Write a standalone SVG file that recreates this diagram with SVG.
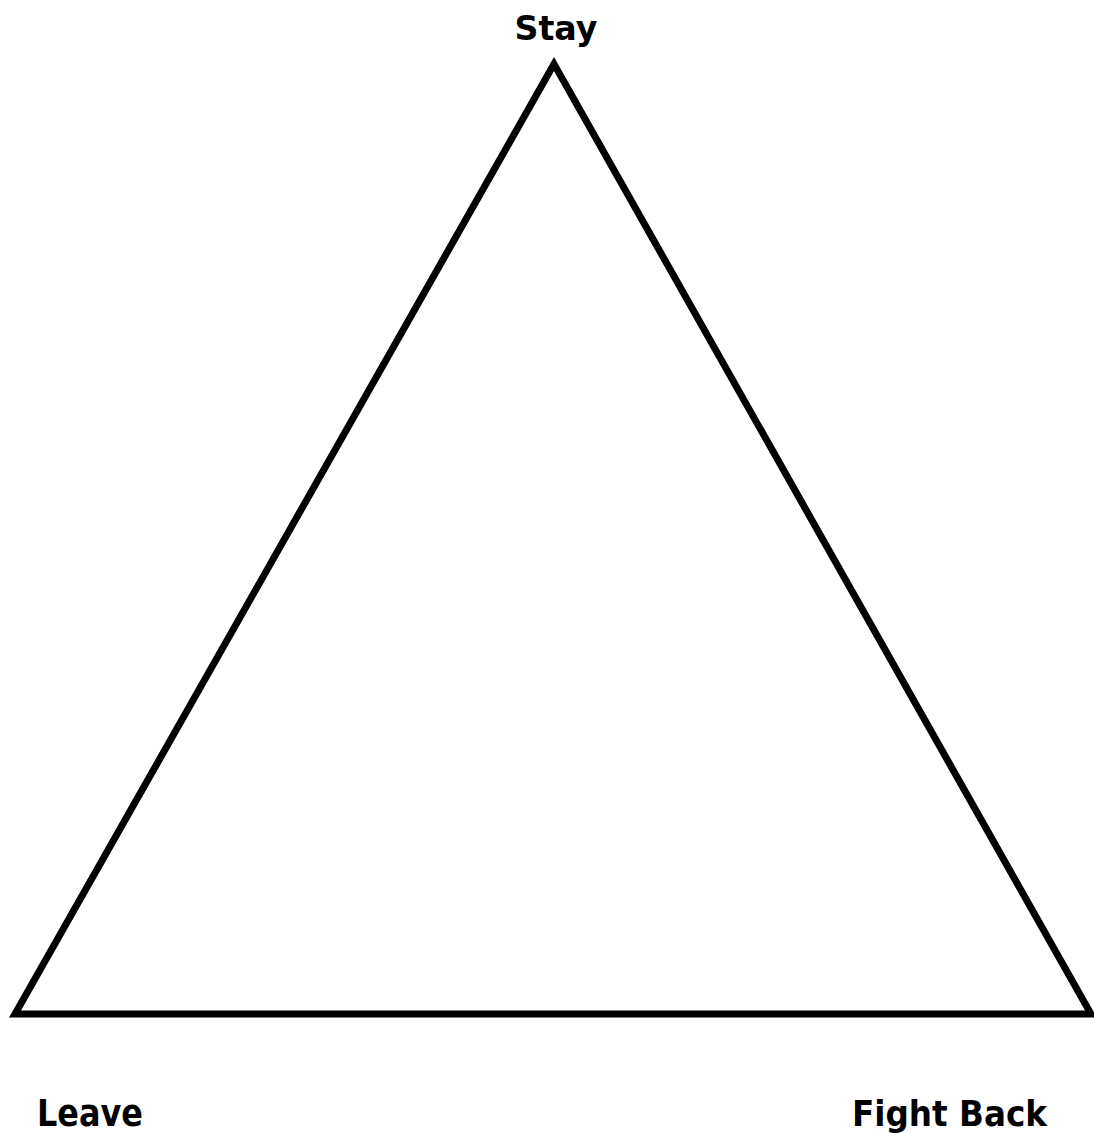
<svg xmlns="http://www.w3.org/2000/svg" width="1094" height="1133" viewBox="0 0 1094 1133">
<style>
.lbl{font-family:"DejaVu Sans","Liberation Sans",sans-serif;font-weight:bold;fill:#000}
.edge{fill:none;stroke:#000;stroke-width:7;stroke-linejoin:miter}
</style>
<rect width="1094" height="1133" fill="#fff"/>
<g id="connectors">
<polygon class="edge" points="554,64 15,1014 1091,1014"/>
</g>
<g id="node-stay"><text class="lbl" x="556" y="40" font-size="33" text-anchor="middle" textLength="83" lengthAdjust="spacingAndGlyphs">Stay</text></g>
<g id="node-leave"><text class="lbl" x="37" y="1126" font-size="37" textLength="106" lengthAdjust="spacingAndGlyphs">Leave</text></g>
<g id="node-fight"><text class="lbl" x="852" y="1126" font-size="36" textLength="195" lengthAdjust="spacingAndGlyphs">Fight Back</text></g>
</svg>
